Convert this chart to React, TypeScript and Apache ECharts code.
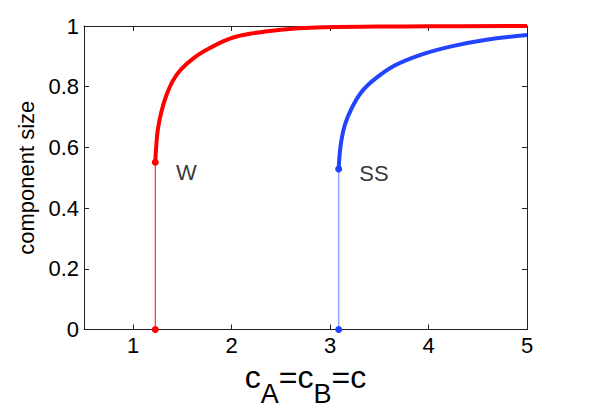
import React, { useEffect, useRef } from "react";
import * as echarts from "echarts";

const FONT = "Liberation Sans, Arial, Helvetica, sans-serif";

// W branch (red)
const wX = [1.224, 1.234, 1.251, 1.285, 1.336, 1.403, 1.488, 1.624, 1.793, 1.996, 2.2, 2.5, 2.86, 3.5, 4.0, 5.0];
const wY = [0.551, 0.606, 0.661, 0.716, 0.771, 0.82, 0.858, 0.897, 0.93, 0.96, 0.975, 0.988, 0.995, 0.998, 0.999, 1.0];
// SS branch (blue)
const ssX = [3.087, 3.107, 3.148, 3.216, 3.317, 3.453, 3.656, 3.927, 4.232, 4.574, 5.0];
const ssY = [0.529, 0.606, 0.672, 0.727, 0.782, 0.825, 0.87, 0.906, 0.933, 0.954, 0.97];
// jump (transition) points
const wJumpX = 1.224;
const wJumpY = [0, 0.551];
const ssJumpX = 3.087;
const ssJumpY = [0, 0.529];
// curve labels
const labelNames = ["W", "SS"];
const labelX = [1.54, 3.445];
const labelY = [0.518, 0.515];

const xTicks = [1, 2, 3, 4, 5];

const RED = "#ff0000";
const BLUE = "#2244ff";

export default function App() {
  const ref = useRef<HTMLDivElement>(null);
  useEffect(() => {
    if (!ref.current) return;
    const chart = echarts.init(ref.current, undefined, { renderer: "svg" });
    const axisLine = { show: true, onZero: false, lineStyle: { color: "#222", width: 1 } };
    const tick = { show: true, inside: true, length: 5, lineStyle: { color: "#222" } };
    chart.setOption({
      animation: false,
      backgroundColor: "#fff",
      grid: { left: 84, right: 77, top: 26, bottom: 83.5, containLabel: false },
      xAxis: [
        {
          type: "value",
          min: 0.5,
          max: 5,
          position: "bottom",
          axisLine,
          axisTick: { ...tick, customValues: xTicks },
          axisLabel: { customValues: xTicks, fontSize: 22, color: "#000", fontFamily: FONT, margin: 5 },
          splitLine: { show: false },
          name: "{c|c}{s|A}{c|=c}{s|B}{c|=c}",
          nameLocation: "middle",
          nameGap: 29,
          nameTextStyle: {
            rich: {
              c: { fontSize: 32, fontFamily: FONT, color: "#000", verticalAlign: "top" },
              s: { fontSize: 27, fontFamily: FONT, color: "#000", verticalAlign: "bottom", padding: [19, 0, 0, 0] },
            },
          },
        },
        {
          type: "value",
          min: 0.5,
          max: 5,
          position: "top",
          axisLine,
          axisTick: { ...tick, customValues: xTicks },
          axisLabel: { show: false },
          splitLine: { show: false },
        },
      ],
      yAxis: [
        {
          type: "value",
          min: 0,
          max: 1,
          interval: 0.2,
          position: "left",
          axisLine,
          axisTick: tick,
          axisLabel: { fontSize: 22, color: "#000", fontFamily: FONT, margin: 5 },
          splitLine: { show: false },
          name: "component size",
          nameLocation: "middle",
          nameGap: 38,
          nameTextStyle: { fontSize: 22, color: "#000", fontFamily: FONT },
        },
        {
          type: "value",
          min: 0,
          max: 1,
          interval: 0.2,
          position: "right",
          axisLine,
          axisTick: tick,
          axisLabel: { show: false },
          splitLine: { show: false },
        },
      ],
      series: [
        {
          type: "line",
          data: wJumpY.map((y) => [wJumpX, y]),
          symbol: "circle",
          symbolSize: 7,
          showSymbol: true,
          itemStyle: { color: RED },
          lineStyle: { color: RED, width: 1 },
          z: 3,
        },
        {
          type: "line",
          data: wX.map((x, i) => [x, wY[i]]),
          symbol: "none",
          smooth: 0.4,
          lineStyle: { color: RED, width: 4 },
          z: 2,
        },
        {
          type: "line",
          data: ssJumpY.map((y) => [ssJumpX, y]),
          symbol: "circle",
          symbolSize: 7,
          showSymbol: true,
          itemStyle: { color: BLUE },
          lineStyle: { color: "#8fa3ff", width: 1.5 },
          z: 3,
        },
        {
          type: "line",
          data: ssX.map((x, i) => [x, ssY[i]]),
          symbol: "none",
          smooth: 0.4,
          lineStyle: { color: BLUE, width: 4 },
          z: 2,
        },
        {
          type: "scatter",
          data: labelNames.map((n, i) => ({ value: [labelX[i], labelY[i]], name: n })),
          symbolSize: 0,
          label: {
            show: true,
            position: "inside",
            formatter: (p: any) => p.name,
            fontSize: 22,
            color: "#000",
            fontFamily: FONT,
          },
          silent: true,
        },
      ],
    });
    return () => chart.dispose();
  }, []);
  return <div ref={ref} style={{ position: "fixed", left: 0, top: 0, width: 604, height: 413 }} />;
}
